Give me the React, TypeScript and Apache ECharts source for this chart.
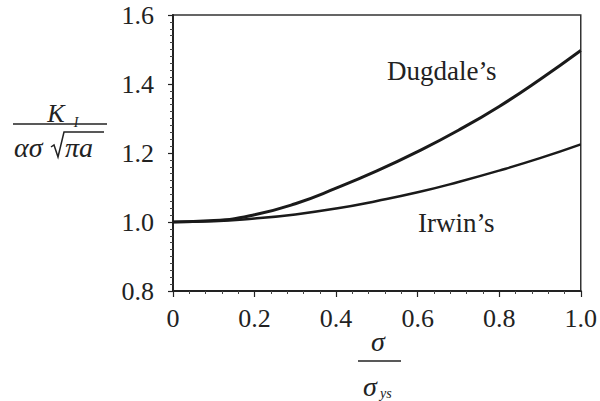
import React, { useEffect, useRef } from "react";
import * as echarts from "echarts";

const stressRatio = [0, 0.1, 0.2, 0.3, 0.4, 0.5, 0.6, 0.7, 0.8, 0.9, 1.0];
const dugdale = [1.0, 1.004, 1.021, 1.053, 1.098, 1.148, 1.204, 1.266, 1.335, 1.413, 1.497];
const irwin = [1.0, 1.002, 1.01, 1.022, 1.039, 1.061, 1.086, 1.116, 1.149, 1.185, 1.225];
const seriesNames = ["Dugdale\u2019s", "Irwin\u2019s"];

const SERIF = "serif";
const INK = "#222";

const txt = (x: number, y: number, text: string, size: number, italic: boolean, align = "left") => {
  const style: any = {
    text,
    fontFamily: SERIF,
    fontSize: size,
    fill: INK,
    align,
    verticalAlign: "middle",
  };
  if (italic) style.fontStyle = "italic";
  return { type: "text", x, y, style };
};

export default function App() {
  const ref = useRef<HTMLDivElement>(null);
  useEffect(() => {
    if (!ref.current) return;
    document.body.style.margin = "0";
    document.body.style.overflow = "hidden";
    const chart = echarts.init(ref.current, undefined, { renderer: "svg" });
    const pair = (ys: number[]) => stressRatio.map((x, i) => [x, ys[i]]);
    chart.setOption({
      animation: false,
      textStyle: { fontFamily: SERIF },
      grid: {
        left: 173,
        top: 15,
        right: 18,
        bottom: 110,
        show: true,
        borderColor: "#333",
        borderWidth: 1.5,
      },
      xAxis: {
        type: "value",
        min: 0,
        max: 1,
        interval: 0.2,
        axisLine: { show: true, onZero: false, lineStyle: { color: INK, width: 2 } },
        axisTick: { show: true, inside: false, length: 6, lineStyle: { color: INK, width: 1.2 } },
        minorTick: { show: true, splitNumber: 5, length: 3, lineStyle: { color: "#444", width: 1 } },
        splitLine: { show: false },
        axisLabel: {
          color: INK,
          fontFamily: SERIF,
          fontSize: 26,
          margin: 14,
          formatter: (v: number) => (v === 0 ? "0" : v.toFixed(1)),
        },
      },
      yAxis: {
        type: "value",
        min: 0.8,
        max: 1.6,
        interval: 0.2,
        axisLine: { show: true, onZero: false, lineStyle: { color: INK, width: 2 } },
        axisTick: { show: true, inside: false, length: 5, lineStyle: { color: INK, width: 1.2 } },
        minorTick: { show: true, splitNumber: 10, length: 3, lineStyle: { color: "#444", width: 1 } },
        splitLine: { show: false },
        axisLabel: {
          color: INK,
          fontFamily: SERIF,
          fontSize: 26,
          margin: 19,
          formatter: (v: number) => v.toFixed(1),
        },
      },
      series: [
        {
          name: seriesNames[0],
          type: "line",
          data: pair(dugdale),
          smooth: 0.5,
          symbol: "none",
          lineStyle: { color: "#1a1a1a", width: 3 },
        },
        {
          name: seriesNames[1],
          type: "line",
          data: pair(irwin),
          smooth: 0.5,
          symbol: "none",
          lineStyle: { color: "#1a1a1a", width: 2.5 },
        },
      ],
      graphic: [
        txt(387, 71, seriesNames[0], 27, false),
        txt(418, 223, seriesNames[1], 27, false),
        // y-axis title: K_I / (alpha sigma sqrt(pi a))
        txt(56, 113, "K", 26, true, "center"),
        txt(76, 122, "I", 14, true, "center"),
        { type: "line", shape: { x1: 13, y1: 124, x2: 107, y2: 124 }, style: { stroke: INK, lineWidth: 1.5 } },
        txt(14, 147, "\u03b1\u03c3", 28, true),
        { type: "polyline", shape: { points: [[51, 147], [54, 145], [58, 157], [64, 132], [104, 132]] }, style: { stroke: INK, lineWidth: 1.5, fill: null } },
        txt(65, 147, "\u03c0a", 28, true),
        // x-axis title: sigma / sigma_ys
        txt(378, 341, "\u03c3", 28, true, "center"),
        { type: "line", shape: { x1: 358, y1: 361, x2: 401, y2: 361 }, style: { stroke: INK, lineWidth: 1.5 } },
        txt(370, 386, "\u03c3", 28, true, "center"),
        txt(380, 393, "ys", 14, true),
      ],
    });
    return () => chart.dispose();
  }, []);
  return <div ref={ref} style={{ width: 600, height: 401, background: "#fff" }} />;
}
